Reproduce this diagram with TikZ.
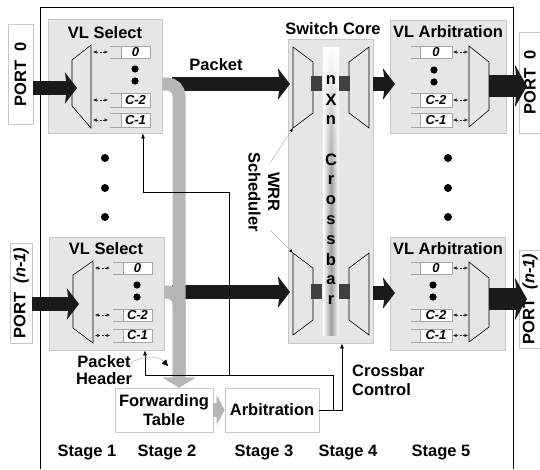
\documentclass[tikz,border=0pt]{standalone}
\usepackage{fontspec}
\setmainfont{Liberation Sans}
\usetikzlibrary{arrows.meta,fadings}

\definecolor{boxgray}{RGB}{230,230,230}
\definecolor{boxline}{RGB}{200,200,200}
\definecolor{pipegray}{RGB}{182,182,182}
\definecolor{blockgray}{RGB}{64,64,64}
\definecolor{arrowblack}{RGB}{26,26,26}

\newcommand{\lbl}{\bfseries\fontsize{16.5}{19.5}\selectfont}
\newcommand{\qlbl}{\bfseries\itshape\fontsize{13}{15}\selectfont}

\tikzfading[name=fadedown, top color=transparent!0, bottom color=transparent!100]

\tikzset{
  vlbox/.style={draw=boxline, fill=boxgray, line width=0.8pt, inner sep=0pt},
  whitebox/.style={draw=boxline, fill=white, line width=0.8pt, inner sep=0pt, align=center, font=\lbl},
  title/.style={font=\lbl, inner sep=0pt},
  fat/.style={arrowblack, line width=14pt, -{Stealth[length=12pt,width=31pt,inset=2pt]}},
  fatout/.style={arrowblack, line width=22pt, -{Stealth[length=12pt,width=42pt,inset=2pt]}},
  pipe/.style={pipegray, line width=13pt, rounded corners=12pt, -{Triangle[length=10pt,width=32pt]}},
  ctrl/.style={line width=0.6pt, -{Latex[length=5pt,width=4pt]}},
  wrr/.style={gray!60, line width=0.5pt, -{Latex[length=4pt,width=3pt,color=black]}},
  mux/.style={draw, fill=boxgray, line width=0.6pt},
  qline/.style={draw=gray!70, line width=0.6pt},
  qarrow/.style={black!85, line width=0.5pt, dash pattern=on 2pt off 1.5pt, {Latex[length=3.5pt,width=3.5pt]}-{Latex[length=3.5pt,width=3.5pt]}},
}

% one queue: left x, divider x, right x, top y, bottom y, label
\newcommand{\qrow}[6]{%
  \draw[qline] (#1,#4) -- (#3,#4) -- (#3,#5) -- (#1,#5);
  \filldraw[qline, fill=white] (#2,#4) rectangle (#3,#5);
  \node[font=\qlbl, inner sep=0pt] at ({(#2+#3)/2},{(#4+#5)/2}) {#6};
}

\begin{document}
\begin{tikzpicture}[x=1pt,y=-1pt]
  \useasboundingbox (0,0) rectangle (540,469);

  % outer frame
  \draw[line width=0.8pt] (40,469) -- (40,7) -- (513,7) -- (513,469);

  % ports
  \node[whitebox, rotate=90, minimum width=100pt, minimum height=25pt] (p0L) at (20.5,74) {PORT~~0};
  \node[whitebox, rotate=90, minimum width=100pt, minimum height=22pt] (pnL) at (21,293) {PORT~~\textit{(n-1)}};
  \node[whitebox, rotate=90, minimum width=101pt, minimum height=22pt] (p0R) at (530,82.5) {PORT~~0};
  \node[whitebox, rotate=90, minimum width=98pt, minimum height=22pt] (pnR) at (530,299) {PORT~~\textit{(n-1)}};

  % stage boxes
  \node[vlbox, minimum width=114pt, minimum height=114pt] (selT) at (105,76) {};
  \node[vlbox, minimum width=115pt, minimum height=113pt] (selB) at (106.5,293.5) {};
  \node[vlbox, minimum width=85pt, minimum height=304pt] (core) at (330.5,191) {};
  \node[vlbox, minimum width=116pt, minimum height=113pt] (arbT) at (448,76.5) {};
  \node[vlbox, minimum width=115pt, minimum height=113pt] (arbB) at (447.5,293.5) {};
  \node[whitebox, minimum width=98pt, minimum height=44pt] (fwd) at (164,410) {Forwarding\\Table};
  \node[whitebox, minimum width=94pt, minimum height=44pt] (arbit) at (272,410) {Arbitration};

  % titles
  \node[title] (selTt) at (105,33) {VL Select};
  \node[title] (selBt) at (106,249) {VL Select};
  \node[title] (coret) at (333,29) {Switch Core};
  \node[title] (arbTt) at (448,32) {VL Arbitration};
  \node[title] (arbBt) at (448,249) {VL Arbitration};

  % crossbar
  \shade[left color=white, right color=white, middle color=gray!75] (323,47) rectangle (339,335);
  \fill[white, path fading=fadedown] (323,47) rectangle (339,175);
  \foreach \ch [count=\i from 0] in {n,X,n,{},C,r,o,s,s,b,a,r}
    \node[font=\lbl, inner sep=0pt] at (331,80+20*\i) {\ch};

  % multiplexers
  \draw[mux] (72,60) -- (91,45) -- (91,128) -- (72,106) -- cycle;
  \draw[mux] (73,275) -- (93,261) -- (93,343) -- (73,328) -- cycle;
  \draw[mux] (293,47) -- (313,62) -- (313,113) -- (293,128) -- cycle;
  \draw[mux] (349,62) -- (369,47) -- (369,128) -- (349,113) -- cycle;
  \draw[mux] (293,253) -- (313,268) -- (313,320) -- (293,335) -- cycle;
  \draw[mux] (349,268) -- (369,253) -- (369,335) -- (349,320) -- cycle;
  \draw[mux] (469,46) -- (489,62) -- (489,110) -- (469,127) -- cycle;
  \draw[mux] (469,262) -- (489,278) -- (489,327) -- (469,342) -- cycle;

  % crossbar ports
  \fill[blockgray] (311,76) rectangle (322,91);
  \fill[blockgray] (339,76) rectangle (350,91);
  \fill[blockgray] (311,284) rectangle (322,299);
  \fill[blockgray] (339,284) rectangle (350,299);

  % queues
  \foreach \qt/\qb/\ql in {46/58/0, 93/107/C-2, 113/127/C-1} {
    \qrow{110}{121}{150}{\qt}{\qb}{\ql}
    \draw[qarrow] (93,{(\qt+\qb)/2}) -- (108,{(\qt+\qb)/2});
    \qrow{411}{420}{452}{\qt}{\qb}{\ql}
    \draw[qarrow] (453,{(\qt+\qb)/2}) -- (468,{(\qt+\qb)/2});
  }
  \foreach \qt/\qb/\ql in {262/274/0, 309/321/C-2, 329/342/C-1} {
    \qrow{113}{123}{152}{\qt}{\qb}{\ql}
    \draw[qarrow] (95,{(\qt+\qb)/2}) -- (110,{(\qt+\qb)/2});
    \qrow{411}{420}{452}{\qt}{\qb}{\ql}
    \draw[qarrow] (453,{(\qt+\qb)/2}) -- (468,{(\qt+\qb)/2});
  }

  % dots
  \foreach \dx/\dy in {135/69, 135/81, 137/285, 137/297, 434/70, 434/82, 433/285, 433/297}
    \fill (\dx,\dy) circle (3.6pt);
  \foreach \dy in {158,188,217} {
    \fill (105,\dy) circle (4pt);
    \fill (448,\dy) circle (4pt);
  }

  % data path
  \draw[fat] (p0L.south |- 0,88) -- (77,88);
  \draw[fat] (pnL.south |- 0,304) -- (79,304);
  \draw[fat] (172,84) -- (290,84);
  \draw[fat] (172,292) -- (290,292);
  \draw[fat] (core.east |- 0,84) -- (395,84);
  \draw[fat] (core.east |- 0,293) -- (395,293);
  \draw[fatout] (489,86) -- (527,86);
  \draw[fatout] (489,299) -- (527,299);

  % packet header path
  \draw[pipe] (selT.east |- 0,84) -- (179,84) -- (179,84 |- fwd.north);
  \draw[pipe] (selB.east |- 0,292) -- (179,292) -- (179,292 |- fwd.north);
  \draw[pipegray, line width=14pt, -{Triangle[length=8pt,width=30pt]}] (fwd.east) -- (arbit.west);

  % control lines
  \coordinate (ctrlturn) at (342,410);
  \draw[ctrl] (arbit.east) -- (ctrlturn) -- (ctrlturn |- core.south);
  \draw[ctrl] (333,410) |- (145,375) -- (145,375 |- selB.south);
  \draw[ctrl] (229,375) |- (143,192) -- (143,192 |- selT.south);

  % WRR pointers
  \draw[wrr] (270,163) -- (293,128);
  \draw[wrr] (270,230) -- (293,253);
  \draw[gray!60, line width=0.5pt, -{Triangle[length=6pt,width=6pt,color=black]}] (127,366) .. controls (140,355) and (158,355) .. (168,366);

  % labels
  \node[title] (pkt) at (216,65) {Packet};
  \node[title, rotate=-90, align=center] (wrrlbl) at (264,192) {WRR\\Scheduler};
  \node[title, align=left, anchor=west] (xbarlbl) at (352,380) {Crossbar\\Control};
  \node[font=\bfseries\fontsize{16.5}{17}\selectfont, inner sep=0pt, align=center] (hdrlbl) at (104,370) {Packet\\Header};
  \foreach \sx/\sn in {87/1, 167/2, 264/3, 348/4, 441/5}
    \node[title] at (\sx,452) {Stage \sn};
\end{tikzpicture}
\end{document}
